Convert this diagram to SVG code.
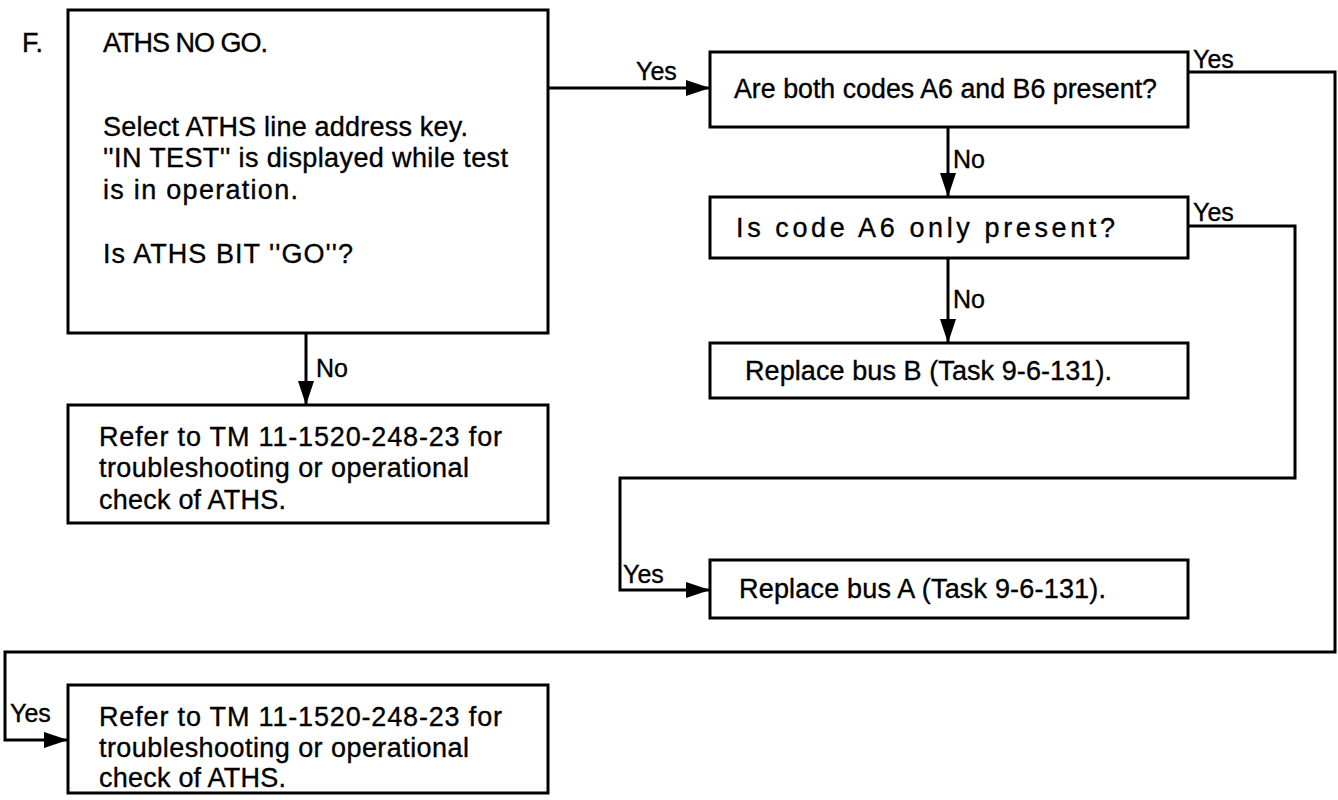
<svg xmlns="http://www.w3.org/2000/svg" width="1338" height="800" viewBox="0 0 1338 800">
<style>
.box{fill:#fff;stroke:#000;stroke-width:3}
.t{font-family:"Liberation Sans",Arial,sans-serif;font-size:27px;fill:#000;stroke:#000;stroke-width:0.35}
.lbl{font-family:"Liberation Sans",Arial,sans-serif;font-size:25px;fill:#000;stroke:#000;stroke-width:0.35}
.ln{fill:none;stroke:#000;stroke-width:3}
</style>
<defs>
<marker id="ah" markerUnits="userSpaceOnUse" markerWidth="26" markerHeight="18" refX="24" refY="9" orient="auto">
<path d="M0,1 L24,9 L0,17 z" fill="#000"/>
</marker>
</defs>
<rect width="1338" height="800" fill="#fff"/>
<text class="t" x="22" y="52">F.</text>
<g id="connectors">
<polyline class="ln" points="548,88 710,88" marker-end="url(#ah)"/>
<text class="lbl" x="636" y="80">Yes</text>
<polyline class="ln" points="306,333 306,405" marker-end="url(#ah)"/>
<text class="lbl" x="316" y="377">No</text>
<polyline class="ln" points="948,127 948,197" marker-end="url(#ah)"/>
<text class="lbl" x="953" y="168">No</text>
<polyline class="ln" points="948,258 948,343" marker-end="url(#ah)"/>
<text class="lbl" x="953" y="308">No</text>
<polyline class="ln" points="1188,72 1335,72 1335,652 5,652 5,740 68,740" marker-end="url(#ah)"/>
<text class="lbl" x="1193" y="68">Yes</text>
<text class="lbl" x="10" y="722">Yes</text>
<polyline class="ln" points="1188,226 1295,226 1295,478 620,478 620,590 710,590" marker-end="url(#ah)"/>
<text class="lbl" x="1193" y="221">Yes</text>
<text class="lbl" x="623" y="583">Yes</text>
</g>
<g id="n1">
<rect class="box" x="68" y="10" width="480" height="323"/>
<text class="t" x="103" y="52" textLength="165">ATHS NO GO.</text>
<text class="t" x="103" y="136" textLength="365">Select ATHS line address key.</text>
<text class="t" x="103" y="167" textLength="405">''IN TEST'' is displayed while test</text>
<text class="t" x="103" y="199" textLength="195">is in operation.</text>
<text class="t" x="103" y="263" textLength="250">Is ATHS BIT ''GO''?</text>
</g>
<g id="n2">
<rect class="box" x="710" y="52" width="478" height="75"/>
<text class="t" x="734" y="98" textLength="423" lengthAdjust="spacingAndGlyphs">Are both codes A6 and B6 present?</text>
</g>
<g id="n3">
<rect class="box" x="710" y="197" width="478" height="61"/>
<text class="t" x="736" y="237" textLength="379">Is code A6 only present?</text>
</g>
<g id="n4">
<rect class="box" x="710" y="343" width="478" height="55"/>
<text class="t" x="745" y="380" textLength="367">Replace bus B (Task 9-6-131).</text>
</g>
<g id="n5">
<rect class="box" x="68" y="405" width="480" height="118"/>
<text class="t" x="99" y="446" textLength="403">Refer to TM 11-1520-248-23 for</text>
<text class="t" x="99" y="477" textLength="370">troubleshooting or operational</text>
<text class="t" x="99" y="509" textLength="187">check of ATHS.</text>
</g>
<g id="n6">
<rect class="box" x="710" y="560" width="478" height="58"/>
<text class="t" x="739" y="598" textLength="367">Replace bus A (Task 9-6-131).</text>
</g>
<g id="n7">
<rect class="box" x="68" y="685" width="480" height="108"/>
<text class="t" x="99" y="726" textLength="403">Refer to TM 11-1520-248-23 for</text>
<text class="t" x="99" y="757" textLength="370">troubleshooting or operational</text>
<text class="t" x="99" y="787" textLength="187">check of ATHS.</text>
</g>
</svg>
